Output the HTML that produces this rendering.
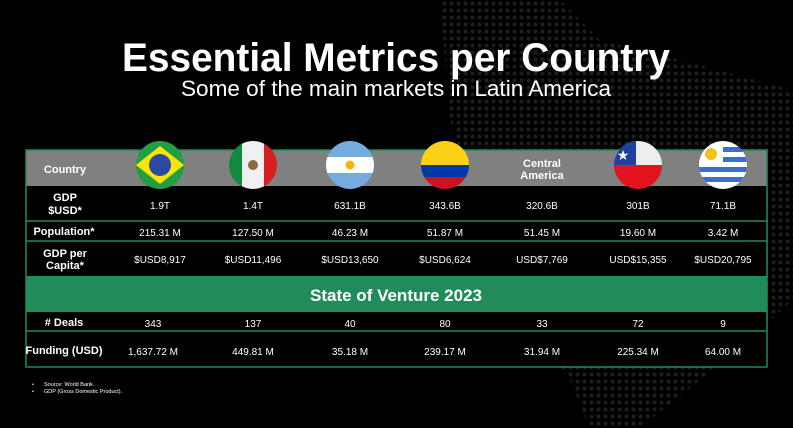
<!DOCTYPE html>
<html><head><meta charset="utf-8"><style>
html,body{margin:0;padding:0;background:#000;}
svg{display:block}
text{font-family:"Liberation Sans",sans-serif;fill:#fff}
</style></head><body>
<svg width="793" height="428" viewBox="0 0 793 428" xmlns="http://www.w3.org/2000/svg">
<defs>
<pattern id="dots" width="7" height="7" patternUnits="userSpaceOnUse"><circle cx="3.5" cy="3.5" r="2" fill="#1d1d1d"/></pattern>
<clipPath id="c1"><circle cx="160" cy="165" r="24"/></clipPath>
<clipPath id="c2"><circle cx="253" cy="165" r="24"/></clipPath>
<clipPath id="c3"><circle cx="350" cy="165" r="24"/></clipPath>
<clipPath id="c4"><circle cx="445" cy="165" r="24"/></clipPath>
<clipPath id="c5"><circle cx="638" cy="165" r="24"/></clipPath>
<clipPath id="c6"><circle cx="723" cy="165" r="24"/></clipPath>
</defs>
<rect width="793" height="428" fill="#000"/>
<path d="M440 0 L560 0 L600 40 L680 60 L793 90 L793 300 L760 330 L700 380 L640 428 L590 428 L570 380 L520 320 L500 250 L470 190 L450 120 L445 60 Z" fill="url(#dots)"/>
<text x="396" y="71" text-anchor="middle" font-size="40" font-weight="bold" textLength="548" lengthAdjust="spacingAndGlyphs">Essential Metrics per Country</text>
<text x="396" y="96" text-anchor="middle" font-size="22" textLength="430" lengthAdjust="spacingAndGlyphs">Some of the main markets in Latin America</text>
<rect x="26" y="150" width="741" height="36" fill="#808080"/>
<rect x="26" y="186" width="741" height="90" fill="#000"/>
<rect x="26" y="276" width="741" height="36" fill="#218b5a"/>
<rect x="26" y="312" width="741" height="55" fill="#000"/>
<g stroke="#218b5a" stroke-width="1.5" fill="none">
<rect x="26" y="150" width="741" height="217"/>
<line x1="26" y1="221" x2="767" y2="221"/>
<line x1="26" y1="241" x2="767" y2="241"/>
<line x1="26" y1="331" x2="767" y2="331"/>
</g>
<g clip-path="url(#c1)"><rect x="130" y="140" width="60" height="50" fill="#229e45"/><polygon points="160,146 184,165 160,184 136,165" fill="#f8e509"/><circle cx="160" cy="165" r="11" fill="#2b49a3"/></g>
<g clip-path="url(#c2)"><rect x="225" y="140" width="17" height="50" fill="#128a3e"/><rect x="242" y="140" width="22" height="50" fill="#f0f0f0"/><rect x="264" y="140" width="20" height="50" fill="#d51f1f"/><circle cx="253" cy="165" r="5" fill="#8a6a3a"/></g>
<g clip-path="url(#c3)"><rect x="320" y="140" width="60" height="50" fill="#74acdf"/><rect x="320" y="157" width="60" height="16" fill="#fff"/><circle cx="350" cy="165" r="4.5" fill="#f6b40e"/></g>
<g clip-path="url(#c4)"><rect x="415" y="140" width="60" height="25" fill="#fcd116"/><rect x="415" y="165" width="60" height="12" fill="#0038a8"/><rect x="415" y="177" width="60" height="15" fill="#ce1126"/></g>
<g clip-path="url(#c5)"><rect x="610" y="140" width="60" height="25" fill="#eee"/><rect x="610" y="140" width="26" height="25" fill="#1f3fa3"/><rect x="610" y="165" width="60" height="26" fill="#e3141f"/><text x="623" y="160" font-size="14" text-anchor="middle">★</text></g>
<g clip-path="url(#c6)"><rect x="695" y="140" width="60" height="50" fill="#fff"/><rect x="723" y="147" width="30" height="5" fill="#3d6ecf"/><rect x="723" y="157" width="30" height="5" fill="#3d6ecf"/><rect x="695" y="167" width="60" height="5" fill="#3d6ecf"/><rect x="695" y="177" width="60" height="5" fill="#3d6ecf"/><circle cx="711" cy="154" r="6" fill="#f3c01c"/></g>
<g font-size="11" font-weight="bold" text-anchor="middle">
<text x="65" y="173">Country</text>
<text x="542" y="167">Central</text><text x="542" y="179">America</text>
<text x="65" y="201">GDP</text><text x="65" y="214">$USD*</text>
<text x="64" y="235">Population*</text>
<text x="65" y="257">GDP per</text><text x="65" y="269">Capita*</text>
<text x="396" y="301" font-size="17">State of Venture 2023</text>
<text x="64" y="326">#  Deals</text>
<text x="64" y="354">Funding (USD)</text>
</g>
<g font-size="10" text-anchor="middle">
<text x="160" y="209">1.9T</text><text x="253" y="209">1.4T</text><text x="350" y="209">631.1B</text><text x="445" y="209">343.6B</text><text x="542" y="209">320.6B</text><text x="638" y="209">301B</text><text x="723" y="209">71.1B</text>
<text x="160" y="236">215.31 M</text><text x="253" y="236">127.50 M</text><text x="350" y="236">46.23 M</text><text x="445" y="236">51.87 M</text><text x="542" y="236">51.45 M</text><text x="638" y="236">19.60 M</text><text x="723" y="236">3.42 M</text>
<text x="160" y="263">$USD8,917</text><text x="253" y="263">$USD11,496</text><text x="350" y="263">$USD13,650</text><text x="445" y="263">$USD6,624</text><text x="542" y="263">USD$7,769</text><text x="638" y="263">USD$15,355</text><text x="723" y="263">$USD20,795</text>
<text x="153" y="327">343</text><text x="253" y="327">137</text><text x="350" y="327">40</text><text x="445" y="327">80</text><text x="542" y="327">33</text><text x="638" y="327">72</text><text x="723" y="327">9</text>
<text x="153" y="355">1,637.72 M</text><text x="253" y="355">449.81 M</text><text x="350" y="355">35.18 M</text><text x="445" y="355">239.17 M</text><text x="542" y="355">31.94 M</text><text x="638" y="355">225.34 M</text><text x="723" y="355">64.00 M</text>
</g>
<g font-size="5.5" fill="#ccc">
<text x="32" y="386">•</text><text x="44" y="386">Source:  World Bank.</text>
<text x="32" y="393">•</text><text x="44" y="393">GDP (Gross Domestic Product).</text>
</g>
</svg>
</body></html>
